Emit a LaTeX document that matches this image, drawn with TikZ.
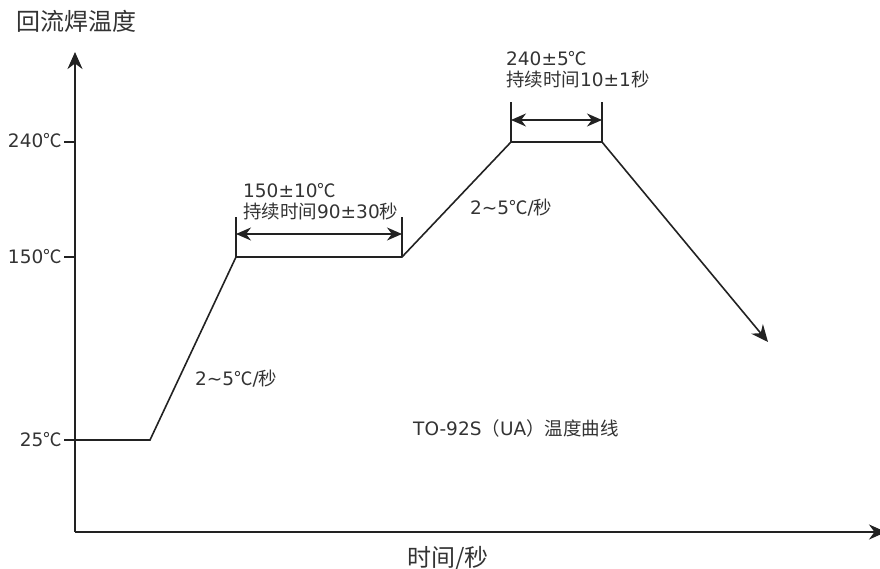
\documentclass[tikz,border=0pt]{standalone}
\usepackage{fontspec}
\setmainfont{DejaVu Sans}
\newfontfamily\cjk{Noto Sans CJK SC}
\usetikzlibrary{arrows.meta}
\definecolor{ink}{HTML}{222222}
\definecolor{txt}{HTML}{333333}
\newcommand{\degc}{{\cjk ℃}}
\begin{document}
\begin{tikzpicture}[x=1pt,y=-1pt,
  axis/.style={draw=ink,line width=2pt,-{Stealth[length=17pt,width=15pt]}},
  curve/.style={draw=ink,line width=1.6pt,line join=miter},
  dimline/.style={draw=ink,line width=1.6pt},
  dimarrow/.style={draw=ink,line width=1.6pt,{Stealth[length=15pt,width=13pt]}-{Stealth[length=15pt,width=13pt]}},
  lbl/.style={inner sep=0pt,text=txt,font=\fontsize{18.5}{21}\selectfont},
  big/.style={inner sep=0pt,text=txt,font=\fontsize{24}{27}\selectfont\cjk}]
\useasboundingbox (0,0) rectangle (880,569);
% axes
\coordinate (O) at (75,532);
\coordinate (ytop) at (75,52);
\coordinate (xend) at (886,532);
\draw[axis] (O) -- (ytop);
\draw[axis] (O) -- (xend);
\node[big,anchor=base west] (ytitle) at (16,31) {回流焊温度};
\node[big,anchor=base west] (xtitle) at (407,566) {时间/秒};
% ticks
\coordinate (t240) at (64,142);
\coordinate (a240) at (75,142);
\coordinate (t150) at (64,257);
\coordinate (a150) at (75,257);
\coordinate (t25) at (64,440);
\draw[dimline] (t240) -- (a240);
\draw[dimline] (t150) -- (a150);
\node[lbl,anchor=base east] (l240) at (62,148) {240\degc};
\node[lbl,anchor=base east] (l150) at (62,263) {150\degc};
\node[lbl,anchor=base east] (l25) at (62,446) {25\degc};
% profile
\coordinate (p1) at (150,440);
\coordinate (p2) at (236,257);
\coordinate (p3) at (402,257);
\coordinate (p4) at (511,142);
\coordinate (p5) at (602,142);
\coordinate (p6) at (768,342);
\draw[curve] (t25) -- (p1) -- (p2) -- (p3) -- (p4) -- (p5);
\draw[curve,-{Stealth[length=17pt,width=15pt]}] (p5) -- (p6);
% dimension 150
\coordinate (d1a) at (236,217);
\coordinate (d1b) at (402,217);
\draw[dimline] (p2) -- (d1a);
\draw[dimline] (p3) -- (d1b);
\coordinate (d1l) at (236,234);
\coordinate (d1r) at (402,234);
\draw[dimarrow] (d1l) -- (d1r);
\node[lbl,anchor=base west] (s1a) at (243,198) {150±10\degc};
\node[lbl,anchor=base west] (s1b) at (243,218.5) {{\cjk 持续时间}90±30{\cjk 秒}};
% dimension 240
\coordinate (d2a) at (511,102);
\coordinate (d2b) at (602,102);
\draw[dimline] (p4) -- (d2a);
\draw[dimline] (p5) -- (d2b);
\coordinate (d2l) at (511,120);
\coordinate (d2r) at (602,120);
\draw[dimarrow] (d2l) -- (d2r);
\node[lbl,anchor=base west] (s2a) at (506,66) {240±5\degc};
\node[lbl,anchor=base west] (s2b) at (506,86.5) {{\cjk 持续时间}10±1{\cjk 秒}};
% rates
\node[lbl,anchor=base west] (r1) at (195,385) {2\char"223C 5\degc/{\cjk 秒}};
\node[lbl,anchor=base west] (r2) at (470,215) {2\char"223C 5\degc/{\cjk 秒}};
% title
\node[lbl,anchor=base west] (title) at (413,435) {TO-92S{\cjk （}UA{\cjk ）温度曲线}};
\end{tikzpicture}
\end{document}
